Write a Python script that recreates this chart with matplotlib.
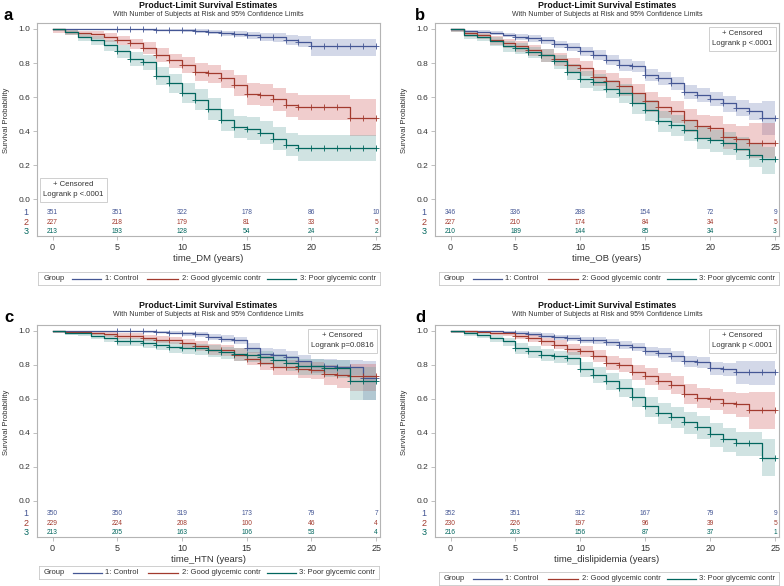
import matplotlib
matplotlib.use("Agg")
import matplotlib.pyplot as plt
import matplotlib.transforms as mtrans

plt.rcParams['font.family'] = ['Liberation Sans', 'DejaVu Sans']

W, H = 784, 586

years = list(range(26))
risk_years = [0, 5, 10, 15, 20, 25]
group_labels = ["1: Control", "2: Good glycemic contr", "3: Poor glycemic contr"]
line_colors = ["#445694", "#A23A2E", "#01665E"]
band_colors = ["#6F7EB3", "#D05B5B", "#66A5A0"]
censor_start = 5

# ---- panel a: time_DM ----
a_ctrl = [1, 1, 1, 1, 1, 1, 1, .997, .995, .995, .993, .99, .985, .975, .97, .965, .955, .95, .935, .925, .9, .9, .9, .9, .9, .9]
a_ctrl_lo = [1, 1, 1, 1, 1, 1, 1, .99, .987, .987, .983, .978, .970, .957, .950, .943, .930, .923, .905, .892, .84, .84, .84, .84, .84, .84]
a_ctrl_hi = [1, 1, 1, 1, 1, 1, 1, 1, 1, 1, 1, .998, .995, .99, .987, .984, .978, .974, .963, .956, .94, .94, .94, .94, .94, .94]
a_good = [1, .985, .975, .97, .955, .935, .915, .89, .85, .815, .79, .75, .74, .71, .67, .62, .615, .59, .555, .54, .54, .54, .54, .48, .48, .48]
a_good_lo = [.975, .965, .952, .944, .926, .903, .880, .852, .808, .768, .740, .697, .685, .652, .608, .555, .548, .520, .482, .465, .465, .465, .465, .37, .37, .37]
a_good_hi = [1, .995, .99, .986, .976, .960, .944, .922, .887, .856, .835, .800, .790, .762, .727, .682, .677, .655, .623, .610, .610, .610, .610, .59, .59, .59]
a_poor = [1, .98, .955, .935, .905, .87, .825, .805, .725, .68, .625, .585, .53, .465, .425, .415, .39, .355, .32, .30, .30, .30, .30, .30, .30, .30]
a_poor_lo = [.99, .962, .930, .905, .870, .830, .780, .757, .670, .622, .565, .522, .466, .400, .358, .348, .322, .287, .252, .225, .225, .225, .225, .225, .225, .225]
a_poor_hi = [1, .992, .975, .960, .935, .905, .865, .848, .775, .735, .683, .645, .592, .530, .492, .482, .458, .425, .390, .375, .375, .375, .375, .375, .375, .375]
a_risk = [[351, 351, 322, 178, 86, 10], [227, 218, 179, 81, 33, 5], [213, 193, 128, 54, 24, 2]]

# ---- panel b: time_OB ----
b_ctrl = [1, .99, .985, .975, .965, .955, .945, .935, .91, .895, .87, .847, .818, .79, .78, .73, .71, .68, .63, .615, .59, .563, .538, .518, .48, .48]
b_ctrl_lo = [.99, .982, .975, .962, .950, .938, .926, .914, .886, .869, .842, .817, .786, .756, .745, .693, .672, .64, .588, .572, .545, .515, .488, .465, .375, .375]
b_ctrl_hi = [1, .996, .993, .986, .978, .970, .962, .954, .932, .919, .896, .875, .848, .822, .813, .765, .746, .718, .670, .656, .633, .607, .585, .567, .58, .58]
b_good = [1, .975, .965, .935, .92, .90, .875, .847, .823, .79, .77, .716, .692, .663, .624, .575, .54, .516, .467, .428, .42, .367, .357, .328, .328, .328]
b_good_lo = [.985, .955, .943, .908, .890, .867, .839, .808, .781, .745, .723, .665, .639, .607, .565, .513, .476, .450, .398, .357, .348, .293, .282, .24, .24, .24]
b_good_hi = [1, .988, .981, .956, .943, .927, .905, .880, .859, .830, .811, .762, .740, .713, .677, .632, .600, .578, .532, .497, .490, .440, .432, .45, .45, .45]
b_poor = [1, .965, .955, .93, .90, .89, .866, .847, .81, .75, .706, .69, .65, .624, .563, .524, .46, .435, .405, .36, .347, .328, .298, .263, .235, .235]
b_poor_lo = [.985, .942, .930, .900, .866, .854, .827, .806, .766, .702, .655, .638, .595, .567, .503, .462, .397, .371, .340, .294, .280, .260, .229, .192, .15, .15]
b_poor_hi = [1, .980, .973, .953, .927, .918, .897, .880, .847, .792, .752, .737, .700, .676, .618, .581, .520, .496, .467, .423, .410, .393, .365, .332, .31, .31]
b_risk = [[346, 336, 288, 154, 72, 9], [227, 210, 174, 84, 34, 5], [210, 189, 144, 85, 34, 3]]

# ---- panel c: time_HTN ----
c_ctrl = [1, 1, 1, 1, 1, 1, 1, .997, .995, .99, .985, .98, .965, .955, .945, .90, .865, .86, .845, .82, .795, .795, .785, .785, .725, .725]
c_ctrl_lo = [1, 1, 1, 1, 1, 1, 1, .99, .987, .980, .973, .966, .947, .935, .923, .872, .833, .827, .810, .782, .754, .754, .742, .742, .59, .59]
c_ctrl_hi = [1, 1, 1, 1, 1, 1, 1, 1, 1, .998, .995, .992, .982, .975, .967, .928, .897, .893, .880, .858, .836, .836, .828, .828, .82, .82]
c_good = [1, .995, .995, .99, .98, .969, .969, .959, .949, .945, .929, .91, .89, .885, .861, .837, .812, .786, .786, .773, .770, .745, .742, .735, .735, .735]
c_good_lo = [.99, .985, .985, .978, .965, .951, .951, .938, .926, .921, .902, .880, .857, .851, .824, .797, .769, .740, .740, .725, .715, .68, .665, .645, .645, .645]
c_good_hi = [1, 1, 1, .998, .992, .985, .985, .978, .970, .967, .954, .939, .922, .918, .897, .876, .854, .831, .831, .820, .818, .798, .795, .805, .805, .805]
c_poor = [1, .988, .985, .972, .959, .94, .938, .929, .92, .906, .90, .897, .886, .874, .866, .857, .847, .827, .812, .792, .792, .782, .780, .705, .705, .705]
c_poor_lo = [.99, .975, .970, .954, .937, .914, .911, .900, .889, .872, .865, .861, .848, .834, .825, .814, .802, .779, .762, .739, .739, .727, .724, .59, .59, .59]
c_poor_hi = [1, .996, .995, .985, .975, .960, .958, .951, .944, .933, .928, .925, .916, .906, .899, .891, .883, .866, .854, .837, .837, .828, .827, .79, .79, .79]
c_risk = [[350, 350, 319, 173, 79, 7], [229, 224, 208, 100, 46, 4], [213, 205, 163, 106, 53, 4]]

# ---- panel d: time_dislipidemia ----
d_ctrl = [1, 1, 1, .998, .995, .99, .983, .973, .963, .96, .949, .945, .935, .92, .906, .88, .871, .851, .82, .815, .782, .773, .757, .757, .757, .757]
d_ctrl_lo = [1, 1, 1, .993, .988, .981, .971, .959, .947, .943, .930, .925, .913, .896, .880, .851, .841, .819, .785, .779, .743, .733, .69, .68, .68, .68]
d_ctrl_hi = [1, 1, 1, 1, 1, .997, .992, .985, .977, .974, .965, .962, .954, .941, .929, .906, .898, .880, .852, .848, .818, .810, .82, .82, .82, .82]
d_good = [1, .998, .995, .988, .985, .969, .959, .94, .92, .894, .88, .855, .812, .802, .757, .733, .704, .684, .631, .606, .60, .577, .567, .533, .533, .533]
d_good_lo = [.99, .99, .985, .975, .970, .950, .937, .914, .891, .861, .845, .817, .769, .757, .708, .682, .650, .628, .570, .543, .535, .508, .495, .42, .42, .42]
d_good_hi = [1, 1, 1, .996, .994, .983, .976, .961, .944, .922, .910, .888, .850, .842, .801, .779, .752, .735, .687, .664, .660, .640, .635, .64, .64, .64]
d_poor = [1, .988, .978, .959, .94, .90, .88, .861, .851, .841, .776, .743, .704, .665, .612, .557, .518, .494, .463, .435, .39, .361, .337, .337, .253, .253]
d_poor_lo = [.99, .972, .958, .934, .911, .865, .843, .822, .811, .799, .728, .692, .650, .608, .552, .494, .453, .428, .395, .365, .318, .288, .262, .262, .145, .145]
d_poor_hi = [1, .996, .990, .975, .960, .927, .909, .892, .883, .874, .817, .787, .751, .715, .664, .613, .577, .553, .524, .498, .455, .428, .405, .405, .36, .36]
d_risk = [[352, 351, 312, 167, 79, 9], [230, 226, 197, 96, 39, 5], [216, 203, 156, 87, 37, 1]]

panels = [
    dict(letter="a", xlabel="time_DM (years)", p="Logrank p <.0001", box="lower left",
         rect=(37, 23, 380, 236), legend=(38, 272, 380, 285), title_y=(6, 15),
         curves=[(a_ctrl, a_ctrl_lo, a_ctrl_hi), (a_good, a_good_lo, a_good_hi), (a_poor, a_poor_lo, a_poor_hi)],
         risk=a_risk),
    dict(letter="b", xlabel="time_OB (years)", p="Logrank p <.0001", box="upper right",
         rect=(435, 23, 779, 236), legend=(439, 272, 779, 285), title_y=(6, 15),
         curves=[(b_ctrl, b_ctrl_lo, b_ctrl_hi), (b_good, b_good_lo, b_good_hi), (b_poor, b_poor_lo, b_poor_hi)],
         risk=b_risk),
    dict(letter="c", xlabel="time_HTN (years)", p="Logrank p=0.0816", box="upper right",
         rect=(37, 325, 380, 537), legend=(39, 566, 379, 579), title_y=(306, 315),
         curves=[(c_ctrl, c_ctrl_lo, c_ctrl_hi), (c_good, c_good_lo, c_good_hi), (c_poor, c_poor_lo, c_poor_hi)],
         risk=c_risk),
    dict(letter="d", xlabel="time_dislipidemia (years)", p="Logrank p <.0001", box="upper right",
         rect=(435, 325, 779, 537), legend=(439, 572, 779, 585), title_y=(306, 315),
         curves=[(d_ctrl, d_ctrl_lo, d_ctrl_hi), (d_good, d_good_lo, d_good_hi), (d_poor, d_poor_lo, d_poor_hi)],
         risk=d_risk),
]

risk_rows = [-0.078, -0.134, -0.188]
frame_col = "#B4B4B4"
text_col = "#333333"

fig = plt.figure(figsize=(W / 100, H / 100), dpi=100)


def add_px_axes(left, top, right, bottom):
    return fig.add_axes([left / W, 1 - bottom / H, (right - left) / W, (bottom - top) / H])


for pan in panels:
    left, top, right, bottom = pan["rect"]
    ax = add_px_axes(left, top, right, bottom)
    for (s, lo, hi), lc, bc in zip(pan["curves"], line_colors, band_colors):
        ax.fill_between(years, lo, hi, step="post", color=bc, alpha=0.3, lw=0)
        ax.step(years, s, where="post", color=lc, lw=0.9)
        ax.plot(years[censor_start:], s[censor_start:], ls="none", marker="+",
                ms=4, mew=0.6, color=lc)

    ax.set_xlim(-1.2, 25.3)
    ax.set_ylim(-0.215, 1.035)
    ax.set_xticks(risk_years)
    ax.set_yticks([0, 0.2, 0.4, 0.6, 0.8, 1.0])
    ax.set_yticklabels(["0.0", "0.2", "0.4", "0.6", "0.8", "1.0"])
    ax.tick_params(axis="both", length=3, width=0.6, color=frame_col, labelcolor=text_col)
    ax.tick_params(axis="y", labelsize=6, pad=2)
    ax.tick_params(axis="x", labelsize=6.5, pad=2)
    for sp in ax.spines.values():
        sp.set_color(frame_col)
        sp.set_linewidth(0.8)

    # number at risk
    row_tf = mtrans.blended_transform_factory(fig.transFigure, ax.transData)
    for row, y, lc, num in zip(pan["risk"], risk_rows, line_colors, ["1", "2", "3"]):
        for x, v in zip(risk_years, row):
            ax.text(x, y, str(v), ha="center", va="center", fontsize=4.8, color=lc)
        fig.text((left - 11) / W, y, num, transform=row_tf, ha="center", va="center",
                 fontsize=6.5, color=lc)

    # censored / logrank box
    txt = "+ Censored\n" + pan["p"]
    bbox = dict(boxstyle="square,pad=0.45", fc="white", ec="#C8C8C8", lw=0.6)
    if pan["box"] == "lower left":
        ax.text(0.018, 0.178, txt, transform=ax.transAxes, ha="left", va="bottom",
                multialignment="center", fontsize=5.6, color=text_col, bbox=bbox,
                linespacing=1.6)
    else:
        ax.text(0.982, 0.965, txt, transform=ax.transAxes, ha="right", va="top",
                multialignment="center", fontsize=5.6, color=text_col, bbox=bbox,
                linespacing=1.6)

    ax.set_xlabel(pan["xlabel"], fontsize=6.8, color=text_col, labelpad=1.5)

    cx = (left + right) / 2 / W
    fig.text(cx, 1 - pan["title_y"][0] / H, "Product-Limit Survival Estimates",
             ha="center", va="center", fontsize=6.3, fontweight="bold", color="#111111")
    fig.text(cx, 1 - pan["title_y"][1] / H,
             "With Number of Subjects at Risk and 95% Confidence Limits",
             ha="center", va="center", fontsize=5, color=text_col)
    fig.text((left - 30) / W, 1 - (top + 6 + (bottom - top) * 0.43) / H,
             "Survival Probability", rotation=90, ha="center", va="center",
             fontsize=5.5, color=text_col)
    fig.text((left - 33 if pan["letter"] in "ac" else left - 20) / W,
             1 - (top - 8) / H, pan["letter"], ha="left", va="center",
             fontsize=12, fontweight="bold", color="#000000")

    # group legend
    l0, t0, r0, b0 = pan["legend"]
    lax = add_px_axes(l0, t0, r0, b0)
    lax.set_xlim(0, 1)
    lax.set_ylim(0, 1)
    lax.set_xticks([])
    lax.set_yticks([])
    for sp in lax.spines.values():
        sp.set_color("#C8C8C8")
        sp.set_linewidth(0.6)
    lax.text(0.015, 0.5, "Group", ha="left", va="center", fontsize=5.5, color=text_col)
    seg_x = [(0.10, 0.185), (0.32, 0.41), (0.67, 0.755)]
    for (x1, x2), lc, lab in zip(seg_x, line_colors, group_labels):
        lax.plot([x1, x2], [0.5, 0.5], color=lc, lw=0.9)
        lax.text(x2 + 0.01, 0.5, lab, ha="left", va="center", fontsize=5.5, color=text_col)

fig.savefig("out.png", dpi=100)
